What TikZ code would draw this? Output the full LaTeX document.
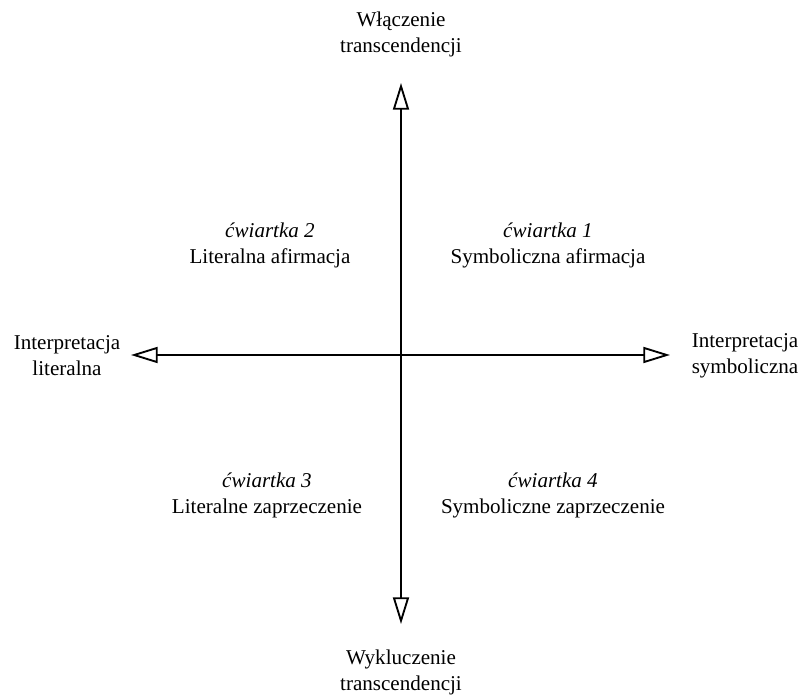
\documentclass[tikz,border=0pt]{standalone}
\usepackage{fontspec}
\setmainfont{Liberation Serif}
\usetikzlibrary{arrows.meta}
\begin{document}
\begin{tikzpicture}[x=0.75pt,y=-0.75pt,
  axis/.style={line width=1.4pt,{Triangle[open,length=20pt,width=12pt]}-{Triangle[open,length=20pt,width=12pt]}},
  lbl/.style={align=center,inner sep=0pt,font=\fontsize{15.8pt}{19.5pt}\selectfont}]
\useasboundingbox (0,0) rectangle (801,698);
\coordinate (o) at (401,355);
\coordinate (t) at (401,83);
\coordinate (b) at (401,624);
\coordinate (l) at (131,355);
\coordinate (r) at (670,355);
\draw[axis] (b) -- (t);
\draw[axis] (l) -- (r);
\node[lbl] (top) at (401,34) {Włączenie\\transcendencji};
\node[lbl] (bot) at (401,672) {Wykluczenie\\transcendencji};
\node[lbl] (left) at (67,356) {Interpretacja\\literalna};
\node[lbl] (right) at (745,356) {Interpretacja\\symboliczna};
\node[lbl] (q2) at (270,245) {\textit{ćwiartka 2}\\Literalna afirmacja};
\node[lbl] (q1) at (548,245) {\textit{ćwiartka 1}\\Symboliczna afirmacja};
\node[lbl] (q3) at (267,495) {\textit{ćwiartka 3}\\Literalne zaprzeczenie};
\node[lbl] (q4) at (553,495) {\textit{ćwiartka 4}\\Symboliczne zaprzeczenie};
\end{tikzpicture}
\end{document}
